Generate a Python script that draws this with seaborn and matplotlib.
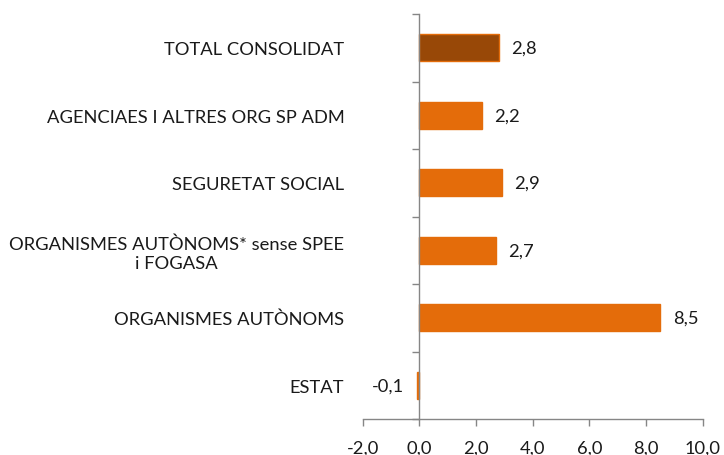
import matplotlib
matplotlib.use("Agg")
import matplotlib.pyplot as plt
import seaborn as sns
import pandas as pd
import numpy as np
from matplotlib.ticker import FuncFormatter

categories = [
    "TOTAL CONSOLIDAT",
    "AGENCIAES I ALTRES ORG SP ADM",
    "SEGURETAT SOCIAL",
    "ORGANISMES AUTÒNOMS* sense SPEE\ni FOGASA",
    "ORGANISMES AUTÒNOMS",
    "ESTAT",
]
values = [2.8, 2.2, 2.9, 2.7, 8.5, -0.1]
bar_colors = ["#984807", "#E46C0A", "#E46C0A", "#E46C0A", "#E46C0A", "#E46C0A"]
x_ticks = [-2, 0, 2, 4, 6, 8, 10]

sns.set_theme(style="white")
plt.rcParams["font.family"] = ["Lato", "DejaVu Sans"]

FS = 13.25
GREY = "#868686"
TXT = "#1a1a1a"

fig = plt.figure(figsize=(7.24, 4.56), dpi=100)
left, right = 362.7 / 724, 702.7 / 724
top, bottom = 1 - 15 / 456, 1 - 420 / 456
ax = fig.add_axes([left, bottom, right - left, top - bottom])

df = pd.DataFrame({"cat": categories, "val": values})
sns.barplot(data=df, x="val", y="cat", hue="cat", palette=bar_colors,
            width=0.405, legend=False, ax=ax, orient="h", saturation=1)
for p in ax.patches:
    p.set_edgecolor("#E46C0A")
    p.set_linewidth(1.0)

ax.set_xlim(-2, 10)
ax.set_ylim(len(categories) - 0.5, -0.5)
ax.set_xlabel("")
ax.set_ylabel("")

for s in ["top", "right"]:
    ax.spines[s].set_visible(False)
ax.spines["left"].set_position(("data", 0))
for s in ["left", "bottom"]:
    ax.spines[s].set_color(GREY)
    ax.spines[s].set_linewidth(1.0)

ax.set_xticks(x_ticks)
ax.xaxis.set_major_formatter(FuncFormatter(lambda v, p: f"{v:.1f}".replace(".", ",")))
ax.tick_params(axis="x", which="major", direction="out", length=5, width=1,
               color=GREY, labelsize=FS, labelcolor=TXT, pad=10, bottom=True)

ax.set_yticks(np.arange(-0.5, len(categories), 1.0))
ax.set_yticklabels([""] * (len(categories) + 1))
ax.tick_params(axis="y", which="major", direction="out", length=5, width=1,
               color=GREY, left=True)
ax.set_yticks(np.arange(len(categories)), labels=categories, minor=True)
ax.tick_params(axis="y", which="minor", length=0, pad=(419 - 344) * 0.72,
               labelsize=FS, labelcolor=TXT, left=True)
for lbl in ax.get_yticklabels(minor=True):
    lbl.set_multialignment("center")
    lbl.set_linespacing(1.25)

for i, v in enumerate(values):
    txt = f"{v:.1f}".replace(".", ",")
    off = 9 if v >= 0 else -9
    ax.annotate(txt, xy=(v, i), xytext=(off, 0), textcoords="offset points",
                ha="left" if v >= 0 else "right", va="center",
                fontsize=FS, color=TXT)

fig.savefig("out.png", dpi=100)
